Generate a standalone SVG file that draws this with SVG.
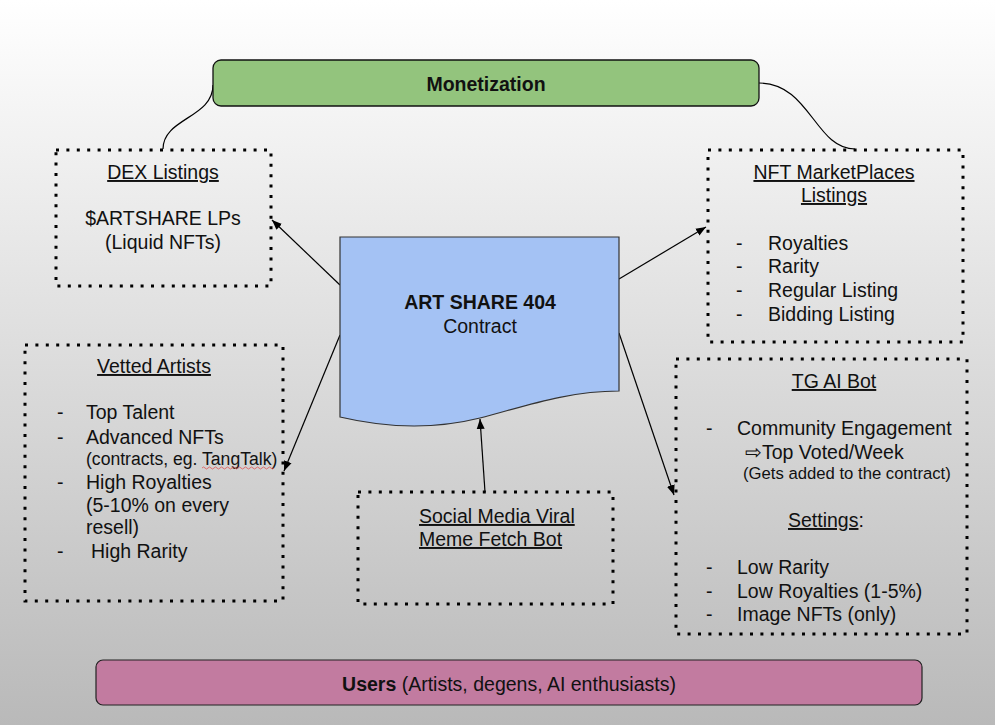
<svg xmlns="http://www.w3.org/2000/svg" width="995" height="725" viewBox="0 0 995 725">
<defs>
<linearGradient id="bg" x1="0" y1="0" x2="0" y2="1">
<stop offset="0" stop-color="#ffffff"/>
<stop offset="1" stop-color="#b9b9b9"/>
</linearGradient>
<marker id="arr" viewBox="0 0 10 10" refX="10" refY="5" markerWidth="10" markerHeight="10" markerUnits="userSpaceOnUse" orient="auto">
<path d="M0,1 L10,5 L0,9 Z" fill="#000"/>
</marker>
</defs>
<style>
text{font-family:"Liberation Sans",Arial,sans-serif;font-size:19.5px;fill:#111;}
.c{text-anchor:middle;}
.b{font-weight:bold;}
.u{text-decoration:underline;}
.s{font-size:16.7px;}
.s2{font-size:17.6px;}
.dot{fill:none;stroke:#000;stroke-width:3;stroke-dasharray:3 7.4;}
.conn{fill:none;stroke:#000;stroke-width:1.2;}
</style>
<rect width="995" height="725" fill="url(#bg)"/>

<g id="connectors">
<path class="conn" d="M163,149 C163,118 213,118 213,85"/>
<path class="conn" d="M759,83 C810,83 815,149 855,149"/>
<path class="conn" d="M340,285 L272,220" marker-end="url(#arr)"/>
<path class="conn" d="M619,279 L706,227" marker-end="url(#arr)"/>
<path class="conn" d="M340,335 L284,471" marker-end="url(#arr)"/>
<path class="conn" d="M619,333 L674,495" marker-end="url(#arr)"/>
<path class="conn" d="M485,492 L480,419" marker-end="url(#arr)"/>
</g>

<g id="monetization">
<rect x="213" y="60" width="546" height="46" rx="8" fill="#93c47d" stroke="#111" stroke-width="1.3"/>
<text class="c b" x="486" y="91">Monetization</text>
</g>

<g id="contract">
<path d="M340,237 H619 V391 C565,391 520,408 480,418 C440,428 395,430 340,417 Z" fill="#a4c2f4" stroke="#333" stroke-width="1.2"/>
<text class="c b" x="480" y="309">ART SHARE 404</text>
<text class="c" x="480" y="333">Contract</text>
</g>

<g id="dex">
<rect class="dot" x="56" y="150" width="215" height="136"/>
<text class="c u" x="163" y="179">DEX Listings</text>
<text class="c" x="163" y="225">$ARTSHARE LPs</text>
<text class="c" x="163" y="249">(Liquid NFTs)</text>
</g>

<g id="nft">
<rect class="dot" x="708" y="150" width="255" height="192"/>
<text class="c u" x="834" y="179">NFT MarketPlaces</text>
<text class="c u" x="834" y="202">Listings</text>
<text x="736" y="250">-</text><text x="768" y="250">Royalties</text>
<text x="736" y="273">-</text><text x="768" y="273">Rarity</text>
<text x="736" y="297">-</text><text x="768" y="297">Regular Listing</text>
<text x="736" y="321">-</text><text x="768" y="321">Bidding Listing</text>
</g>

<g id="vetted">
<rect class="dot" x="25" y="345" width="258" height="256"/>
<text class="c u" x="154" y="373">Vetted Artists</text>
<text x="57" y="419">-</text><text x="86" y="419">Top Talent</text>
<text x="57" y="444">-</text><text x="86" y="444">Advanced NFTs</text>
<text class="s2" x="86" y="465">(contracts, eg. TangTalk)</text>
<path d="M202,468 q1.5,-2 3,0 t3,0 t3,0 t3,0 t3,0 t3,0 t3,0 t3,0 t3,0 t3,0 t3,0 t3,0 t3,0 t3,0 t3,0 t3,0 t3,0 t3,0 t3,0 t3,0 t3,0 t3,0 t3,0 t3,0" fill="none" stroke="#e06060" stroke-width="0.9"/>
<text x="57" y="489">-</text><text x="86" y="489">High Royalties</text>
<text x="86" y="512">(5-10% on every</text>
<text x="86" y="534">resell)</text>
<text x="57" y="558">-</text><text x="91" y="558">High Rarity</text>
</g>

<g id="social">
<rect class="dot" x="358" y="492" width="255" height="112"/>
<text class="u" x="419" y="523">Social Media Viral</text>
<text class="u" x="419" y="546">Meme Fetch Bot</text>
</g>

<g id="tgbot">
<rect class="dot" x="676" y="359" width="291" height="275"/>
<text class="c u" x="834" y="388">TG AI Bot</text>
<text x="706" y="435">-</text><text x="737" y="435">Community Engagement</text>
<text x="745" y="459">⇨Top Voted/Week</text>
<text class="s" x="743" y="479">(Gets added to the contract)</text>
<text x="788" y="527"><tspan class="u">Settings</tspan>:</text>
<text x="706" y="574">-</text><text x="737" y="574">Low Rarity</text>
<text x="706" y="598">-</text><text x="737" y="598">Low Royalties (1-5%)</text>
<text x="706" y="621">-</text><text x="737" y="621">Image NFTs (only)</text>
</g>

<g id="users">
<rect x="96" y="660" width="826" height="45" rx="7" fill="#c27ba0" stroke="#222" stroke-width="1.2"/>
<text class="c" x="509" y="691"><tspan class="b">Users</tspan> (Artists, degens, AI enthusiasts)</text>
</g>
</svg>
